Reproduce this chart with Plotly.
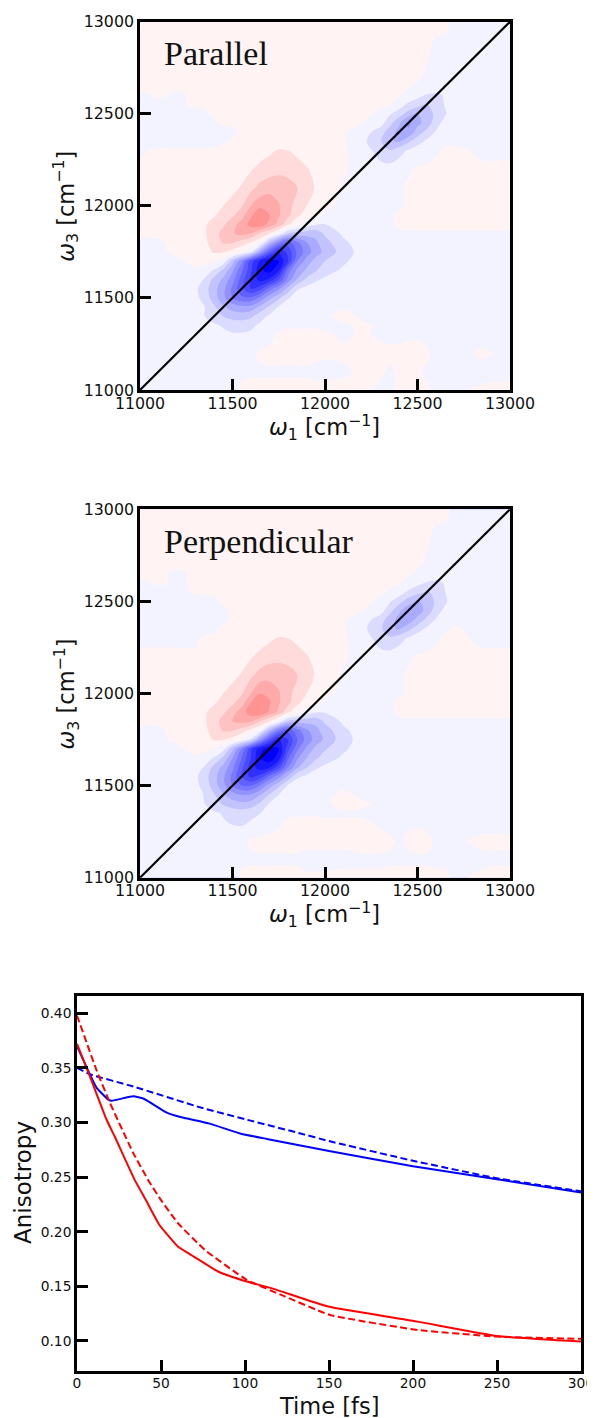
import plotly.graph_objects as go

NODES = [11000,11100,11200,11300,11350,11400,11450,11500,11550,11600,11650,11700,11750,11800,11850,
         11900,11950,12000,12100,12200,12300,12350,12400,12450,12500,12550,12600,12650,12700,12850,13000]

# Signal in percent of the maximum; rows run from omega3 = 11000 up to 13000, columns follow NODES
PARALLEL = [
 [-3,-3,-3,-3, -2,-2,-2,-2,1,2,2,2,2,2,2,2,2,2, 2,1,-1,-1,1,2,2,1,-1,-1,-1,1,2],
 [-3,-3,-3,-3, -3,-2,-2,-2,-1,-1,-1,-1,-1,-1,-1,-1,-2,-2, -1,1,1,-1,1,1,1,-1,-2,-2,-2,-2,-2],
 [-3,-4,-4,-4, -4,-3,-3,-3,-2,-1,1,2,2,2,2,2,2,1, 1,2,2,2,1,2,2,1,-2,-3,-2,1,-2],
 [-3,-3,-3,-4, -5,-6,-8,-9,-9,-8,-5,-2,1,2,2,2,2,1, -1,1,-1,-2,-1,-1,-1,-2,-3,-3,-3,-3,-3],
 [-2,-3,-4,-4, -6,-8,-11,-13,-13,-12,-8,-4,-2,-1,-1,-1,-1,-1, -1,1,-1,-2,-2,-2,-2,-2,-2,-2,-2,-2,-2],
 [-2,-2,-3,-4, -10,-15,-20,-24,-25,-22,-14,-8,-4,-2,-1,-1,-1,-1, 2,-1,-1,-1,-1,-1,-1,-1,-1,-1,-1,-1,-1],
 [-2,-2,-3,-5, -10,-18,-28,-34,-37,-36,-27,-18,-9,-4,-2,-1,-1,-1, -1,-1,-1,-1,-1,-1,-1,-1,-1,-1,-1,-1,-1],
 [-2,-2,-3,-7, -14,-25,-37,-50,-58,-58,-47,-33,-22,-11,-5,-2,-1,-1, -1,-1,-1,-1,-1,-1,-1,-1,-1,-1,-1,-1,-1],
 [-2,-3,-3,-8, -16,-26,-37,-52,-68,-80,-74,-55,-42,-26,-11,-7,-4,-2, -1,-1,-1,-1,-1,-1,-1,-1,-1,-1,-1,-1,-1],
 [-3,-3,-3,-5, -11,-23,-32,-46,-65,-82,-94,-88,-70,-46,-29,-18,-12,-8, -3,-2,-2,-2,-2,-2,-2,-2,-2,-2,-2,-2,-2],
 [-3,-2,-1,-1, -5,-11,-22,-38,-58,-78,-98,-104,-92,-55,-38,-28,-21,-15, -8,-3,-2,-2,-2,-2,-2,-2,-2,-2,-2,-2,-2],
 [-2,-2,-1,2, 3,2,-4,-25,-47,-75,-92,-104,-100,-80,-50,-36,-26,-20, -12,-4,-2,-2,-2,-2,-2,-2,-2,-2,-2,-2,-2],
 [-1,-1,1,3, 6,11,11,6,1,-8,-38,-66,-88,-77,-58,-45,-35,-27, -15,-6,-2,-2,-2,-2,-2,-2,-2,-2,-2,-2,-2],
 [-1,-1,2,4, 8,14,21,21,15,9,1,-28,-50,-65,-53,-41,-32,-24, -12,-5,-2,-2,-2,-2,-2,-2,-2,-2,-2,-2,-2],
 [1,1,2,5, 9,15,24,29,33,30,19,10,-3,-20,-24,-25,-27,-18, -8,-3,-2,-1,-1,-1,-1,-1,-1,-1,-1,-1,-1],
 [1,1,2,5, 9,13,18,26,34,44,47,36,27,12,3,-4,-9,-10, -4,-1,-1,-1,1,2,2,2,2,2,2,2,2],
 [1,1,2,4, 6,9,13,18,26,38,48,40,31,23,12,6,2,-1, -2,-1,-1,-1,1,2,2,2,2,2,2,2,2],
 [1,1,2,3, 5,7,10,14,19,30,37,37,31,23,16,10,4,1, -1,-1,-1,-1,-1,1,2,2,2,2,2,2,2],
 [1,1,1,2, 2,3,4,7,11,17,23,26,26,23,20,15,9,4, -1,-2,-2,-2,-1,1,2,2,2,2,2,2,2],
 [1,1,1,1, 1,2,2,3,5,9,13,15,17,17,15,11,6,3, 1,-3,-7,-6,-4,-1,1,1,2,2,2,1,1],
 [-1,1,1,1, 1,1,2,2,2,3,5,8,11,10,7,3,2,2, 1,-5,-14,-19,-14,-9,-5,-3,-1,1,1,-1,-1],
 [-2,-3,-3,-3, -3,-2,-1,1,1,2,2,2,3,3,2,2,2,2, 1,-7,-19,-29,-31,-22,-14,-8,-3,-1,-1,-2,-2],
 [-2,-3,-3,-3, -3,-3,-2,-1,1,1,2,2,2,2,2,2,2,2, 1,-5,-15,-26,-33,-38,-25,-17,-9,-4,-2,-2,-2],
 [-3,-3,-3,-3, -2,-1,1,1,1,1,2,2,2,2,2,2,2,2, 1,1,-6,-16,-28,-42,-33,-26,-14,-6,-2,-2,-2],
 [-3,-3,-3,-2, -1,1,1,1,1,1,1,1,1,1,1,1,1,1, 1,1,-1,-9,-15,-24,-30,-26,-17,-11,-3,-2,-2],
 [-2,-2,-1,1, 1,1,1,1,1,1,1,1,1,1,1,1,1,1, 1,1,1,1,-5,-12,-16,-20,-17,-9,-2,-2,-2],
 [-1,1,-1,1, 1,1,1,1,1,1,1,1,1,1,1,1,1,1, 1,1,1,1,1,-3,-7,-11,-12,-9,-2,-2,-2],
 [1,1,1,1, 1,1,1,1,1,1,1,1,1,1,1,1,1,1, 1,1,1,1,1,1,-1,-2,-3,-2,-2,-1,-1],
 [1,1,1,1, 1,1,1,1,1,1,1,1,1,1,1,1,1,1, 1,1,1,1,1,1,1,-1,-2,-2,-2,-1,-1],
 [1,1,1,1, 1,1,1,1,1,1,1,1,1,1,1,1,1,1, 1,1,1,1,1,1,1,1,-1,-1,-1,-1,-1],
 [1,1,1,1, 1,1,1,1,1,1,1,1,1,1,1,1,1,1, 1,1,1,1,1,1,1,1,1,1,-1,-1,-1],
]

PERPENDICULAR = [
 [-3,-3,-3,-3, -2,-2,-2,-2,1,2,2,2,2,2,2,1,1,1, 1,1,1,2,2,2,2,2,1,1,-1,1,2],
 [-3,-3,-3,-3, -3,-2,-2,-2,-1,-1,-1,-1,-1,-1,-1,-2,-2,-2, -1,-1,-1,-1,-1,-1,-1,-1,-1,-1,-1,-1,-1],
 [-3,-4,-4,-4, -4,-3,-3,-3,-2,1,2,2,2,2,2,2,2,2, 1,2,2,1,-1,1,2,2,-1,-2,-1,1,1],
 [-3,-3,-3,-4, -5,-7,-9,-11,-12,-9,-6,-3,-1,1,2,2,2,1, 1,1,-1,-2,-1,-1,-1,-2,-2,-2,-2,-2,-2],
 [-2,-3,-4,-4, -6,-8,-11,-14,-15,-13,-10,-4,-2,-1,-1,-1,-1,-1, -1,-1,-1,-2,-2,-2,-2,-2,-2,-2,-2,-2,-2],
 [-2,-2,-3,-4, -10,-16,-21,-25,-27,-25,-18,-9,-4,-2,-1,-1,-1,-1, 2,1,-1,-1,-1,-1,-1,-1,-1,-1,-1,-1,-1],
 [-2,-2,-3,-5, -11,-19,-29,-36,-40,-39,-30,-19,-10,-5,-3,-2,-1,-1, 1,-1,-1,-1,-1,-1,-1,-1,-1,-1,-1,-1,-1],
 [-2,-2,-3,-7, -14,-25,-37,-50,-60,-60,-49,-35,-22,-9,-4,-2,-1,-1, -1,-1,-1,-1,-1,-1,-1,-1,-1,-1,-1,-1,-1],
 [-2,-3,-3,-8, -16,-26,-38,-53,-70,-83,-76,-58,-44,-28,-12,-8,-4,-2, -1,-1,-1,-1,-1,-1,-1,-1,-1,-1,-1,-1,-1],
 [-3,-3,-3,-5, -11,-23,-33,-47,-67,-85,-96,-92,-74,-50,-32,-21,-12,-8, -3,-2,-2,-2,-2,-2,-2,-2,-2,-2,-2,-2,-2],
 [-3,-2,-1,-1, -5,-11,-22,-40,-60,-80,-100,-106,-95,-62,-42,-30,-22,-15, -8,-3,-2,-2,-2,-2,-2,-2,-2,-2,-2,-2,-2],
 [-2,-2,-1,2, 3,1,-6,-27,-50,-78,-96,-105,-100,-74,-52,-38,-27,-21, -12,-4,-2,-2,-2,-2,-2,-2,-2,-2,-2,-2,-2],
 [-1,-1,1,3, 6,11,11,6,-1,-12,-42,-70,-90,-80,-60,-46,-36,-28, -14,-6,-2,-2,-2,-2,-2,-2,-2,-2,-2,-2,-2],
 [-1,-1,2,4, 8,14,21,21,15,7,-2,-30,-54,-66,-54,-42,-33,-25, -12,-5,-2,-2,-2,-2,-2,-2,-2,-2,-2,-2,-2],
 [1,1,2,5, 9,15,24,30,33,32,21,10,-3,-21,-25,-26,-27,-18, -8,-3,-2,-1,-1,-1,-1,-1,-1,-1,-1,-1,-1],
 [1,1,2,5, 9,13,18,26,35,46,49,38,28,12,3,-4,-9,-9, -4,-1,-1,-1,1,2,2,2,2,2,2,2,2],
 [1,1,2,4, 6,9,13,18,26,40,49,41,31,23,12,6,2,-1, -2,-1,-1,-1,1,2,2,2,2,2,2,2,2],
 [1,1,2,3, 5,7,10,14,19,30,40,38,31,23,16,10,4,1, -1,-1,-1,-1,-1,1,2,2,2,2,2,2,2],
 [1,1,1,2, 2,3,4,7,11,18,24,26,26,23,20,15,9,4, -1,-2,-2,-2,-1,1,2,2,2,2,2,2,2],
 [1,1,1,1, 1,2,2,3,5,9,13,16,17,17,15,11,6,3, 1,-3,-7,-6,-4,-1,1,1,2,2,2,1,1],
 [-1,-1,-1,-1, 1,1,2,2,2,3,5,8,11,10,7,3,2,2, 1,-5,-14,-18,-14,-9,-5,-3,-1,1,1,-1,-1],
 [-2,-3,-3,-3, -2,-1,1,1,1,2,2,2,3,3,2,2,2,2, 1,-7,-18,-28,-31,-23,-14,-8,-3,-1,1,-2,-2],
 [-2,-3,-3,-3, -3,-3,-1,1,1,1,2,2,2,2,2,2,2,2, 1,-5,-15,-26,-33,-36,-27,-17,-9,-4,-2,-2,-2],
 [-3,-3,-3,-3, -3,-2,-1,1,1,1,2,2,2,2,2,2,2,2, 1,1,-6,-16,-28,-37,-35,-27,-15,-7,-2,-2,-2],
 [-3,-3,-3,-3, -2,-1,1,1,1,1,1,1,1,1,1,1,1,1, 1,1,-1,-9,-16,-25,-31,-27,-18,-12,-3,-2,-2],
 [-2,-3,-2,1, 1,1,1,1,1,1,1,1,1,1,1,1,1,1, 1,1,1,-1,-5,-12,-17,-21,-18,-10,-2,-2,-2],
 [-1,1,-1,1, 1,1,1,1,1,1,1,1,1,1,1,1,1,1, 1,1,1,1,1,-3,-7,-11,-13,-9,-2,-2,-2],
 [1,1,-1,1, 1,1,1,1,1,1,1,1,1,1,1,1,1,1, 1,1,1,1,1,1,-1,-2,-3,-2,-2,-1,-1],
 [1,1,1,1, 1,1,1,1,1,1,1,1,1,1,1,1,1,1, 1,1,1,1,1,1,1,-1,-2,-2,-2,-1,-1],
 [1,1,1,1, 1,1,1,1,1,1,1,1,1,1,1,1,1,1, 1,1,1,1,1,1,1,1,-1,-1,-1,-1,-1],
 [1,1,1,1, 1,1,1,1,1,1,1,1,1,1,1,1,1,1, 1,1,1,1,1,1,1,1,1,1,-1,-1,-1],
]

DIAGONAL = [11000, 13000]
MAP_TICKS = [11000, 11500, 12000, 12500, 13000]
MAP_TITLES = ["Parallel", "Perpendicular"]

BLUE_SOLID_T = [0,6.5,11.6,18.6,20.6,33.5,39.5,53.5,61.5,79,97,113,133,150,200,250,300]
BLUE_SOLID_R = [.370,.348,.332,.321,.320,.324,.322,.309,.305,.299,.290,.285,.279,.274,.260,.248,.236]
BLUE_DASH_T = [0,8,33.5,73,100,133,150,200,250,300]
BLUE_DASH_R = [.350,.344,.333,.314,.303,.290,.283,.265,.249,.237]
RED_SOLID_T = [0,7.5,17.5,22.5,34.5,41,49,60,69.5,84,101,117,149.5,202.7,250,300]
RED_SOLID_R = [.372,.343,.303,.287,.247,.229,.2064,.1865,.1773,.1636,.1544,.1477,.1315,.1177,.1046,.0995]
RED_DASH_T = [0,11.6,19.6,33.5,42.5,50,60,76,101,124,150.6,203,250,300]
RED_DASH_R = [.398,.348,.318,.272,.247,.229,.208,.1835,.156,.1406,.1238,.110,.104,.102]
TIME_TICKS = [0,50,100,150,200,250,300]
ANISO_TICKS = [.10,.15,.20,.25,.30,.35,.40]

PAGE = 8  # the page puts the figure this many pixels in from its top-left corner
W, H = 595 - PAGE, 1418 - PAGE
LINE = 2.6
BWR = [[0, "#0000ff"], [0.5, "#ffffff"], [1, "#ff0000"]]
INK = "#111111"

def xdom(a, b):
    return [(a - PAGE) / W, (b - PAGE) / W]

def ydom(top, bottom):
    return [1 - (bottom - PAGE) / H, 1 - (top - PAGE) / H]

fig = go.Figure()

def frame(fontsize):
    return dict(showline=True, mirror=True, linecolor="black", linewidth=LINE, ticks="inside", automargin=False,
                ticklen=11, tickwidth=LINE, tickcolor="black", showgrid=False, zeroline=False,
                tickfont=dict(family="DejaVu Sans", size=fontsize, color=INK))

def text_at(text, px, py, size, family="DejaVu Sans", angle=0, xanchor="center"):
    return dict(text=text, xref="paper", yref="paper", x=(px - PAGE) / W, y=1 - (py - PAGE) / H, xanchor=xanchor,
                yanchor="middle", showarrow=False, textangle=angle, font=dict(family=family, size=size, color=INK))

panels = [(PARALLEL, 21.7, 390, "", ""), (PERPENDICULAR, 509.3, 877.7, "2", "2")]
layout = {}
annotations = []
for (data, top, bottom, xs, ys), name in zip(panels, MAP_TITLES):
    fig.add_trace(go.Contour(x=NODES, y=NODES, z=data, xaxis="x" + xs, yaxis="y" + ys,
                             colorscale=BWR, showscale=False, hoverinfo="skip",
                             autocontour=False, contours=dict(start=-100, end=100, size=10, coloring="fill", showlines=False),
                             line=dict(width=0, smoothing=1)))
    fig.add_trace(go.Scatter(x=DIAGONAL, y=DIAGONAL, xaxis="x" + xs, yaxis="y" + ys, mode="lines",
                             line=dict(color="black", width=2.2), showlegend=False, hoverinfo="skip"))
    layout["xaxis" + xs] = dict(frame(15.8), domain=xdom(140, 510), range=[11000, 13000], tickvals=MAP_TICKS,
                                anchor="y" + ys, tickformat="d", ticklabelstandoff=-3)
    layout["yaxis" + ys] = dict(frame(15.8), domain=ydom(top, bottom), range=[11000, 13000], tickvals=MAP_TICKS,
                                anchor="x" + xs, tickformat="d")
    annotations.append(text_at(name, 162, top + 32, 34, family="Liberation Serif", xanchor="left"))
    annotations.append(text_at("<i>ω</i><sub>1</sub> [cm<sup>−1</sup>]", 324, bottom + 37, 22.5))
    annotations.append(text_at("<i>ω</i><sub>3</sub> [cm<sup>−1</sup>]", 66, (top + bottom) / 2, 22.5, angle=-90))

for t, r, color, dash in [(BLUE_SOLID_T, BLUE_SOLID_R, "#0000ff", "solid"), (BLUE_DASH_T, BLUE_DASH_R, "#0000ff", "7px,3.5px"),
                          (RED_SOLID_T, RED_SOLID_R, "#ff0000", "solid"), (RED_DASH_T, RED_DASH_R, "#ff0000", "7px,3.5px")]:
    fig.add_trace(go.Scatter(x=t, y=r, xaxis="x3", yaxis="y3", mode="lines",
                             line=dict(color=color, width=2, dash=dash, shape="spline", smoothing=0.4),
                             showlegend=False, hoverinfo="skip"))

layout["xaxis3"] = dict(frame(13.8), domain=xdom(77, 581), range=[0, 300], tickvals=TIME_TICKS, anchor="y3",
                        ticklabelstandoff=-2)
layout["yaxis3"] = dict(frame(13.8), domain=ydom(995.7, 1371), range=[.0725, .4161], tickvals=ANISO_TICKS, anchor="x3",
                        tickformat=".2f")
annotations.append(text_at("Time [fs]", 329, 1406, 22.5))
annotations.append(text_at("Anisotropy", 23, 1183, 23, angle=-90))

fig.update_layout(width=W, height=H, margin=dict(l=0, r=0, t=0, b=0), paper_bgcolor="white", plot_bgcolor="white",
                  showlegend=False, annotations=annotations, **layout)
fig.write_html("out.html")
